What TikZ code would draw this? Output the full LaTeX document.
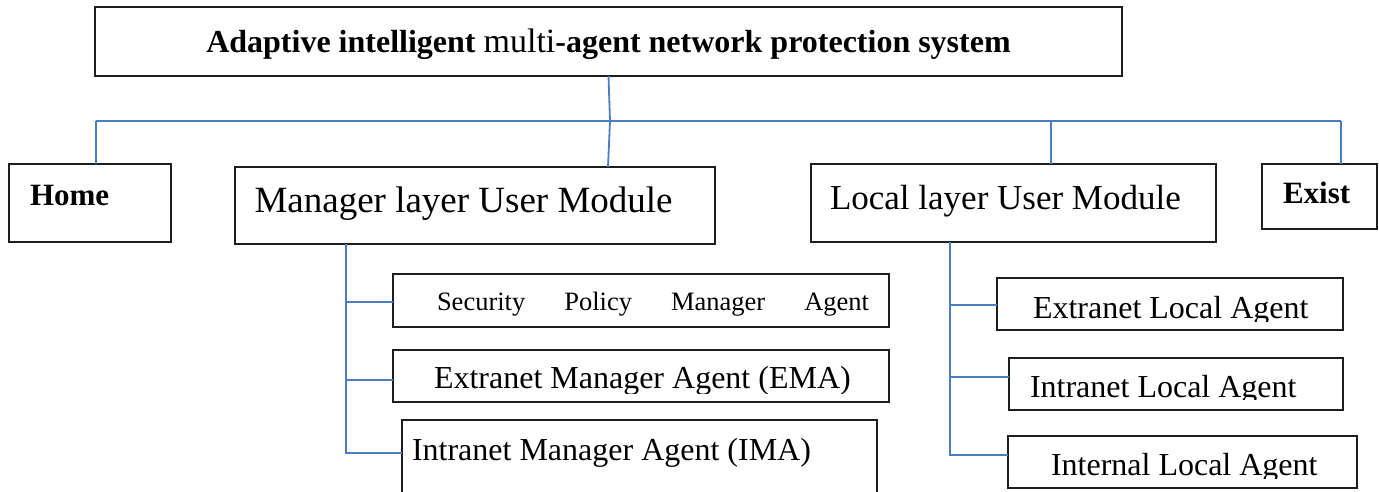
\documentclass[tikz,border=0pt]{standalone}
\usepackage{fontspec}
\setmainfont{Liberation Serif}
\definecolor{linkblue}{RGB}{74,126,193}
\definecolor{framegray}{RGB}{30,30,30}
\newcommand\boxat[5]{\node[frame, minimum width={#4-#2}, minimum height={#5-#3}] (#1) at (#2,#3) {};}
\newcommand\sz[1]{\fontsize{#1}{#1}\selectfont}
\begin{document}
\begin{tikzpicture}[x=1pt,y=-1pt,
  frame/.style={draw=framegray, line width=1.3pt, rectangle, inner sep=0pt, outer sep=0pt, anchor=north west},
  link/.style={draw=linkblue, line width=1.8pt},
  txt/.style={anchor=base west, inner sep=0pt, outer sep=0pt, text=black},
]
\useasboundingbox[fill=white] (0,0) rectangle (1379,491);

% boxes
\boxat{title}{95}{7}{1122}{76}
\boxat{home}{9}{164}{171}{242}
\boxat{mgr}{235}{167}{715}{244}
\boxat{loc}{811}{164}{1216}{242}
\boxat{exist}{1262}{164}{1377}{229}
\boxat{spa}{393}{274}{889}{327}
\boxat{ema}{393}{350}{889}{402}
\boxat{ima}{402}{420}{877}{510}
\boxat{ela}{997}{278}{1343}{330}
\boxat{ila}{1009}{358}{1343}{410}
\boxat{ina}{1008}{436}{1357}{488}

% labels
\node[anchor=base, inner sep=0pt] (titletext) at (608.5,52)
  {\sz{32}\bfseries Adaptive intelligent {\mdseries\sz{34}multi}-agent network protection system};
\node[txt] (hometext) at (30,205) {\sz{31}\bfseries Home};
\node[txt] (mgrtext) at (254.5,212) {\sz{37}Manager layer User Module};
\node[txt] (loctext) at (830,209) {\sz{35}Local layer User Module};
\node[txt] (existtext) at (1283,203) {\sz{31}\bfseries Exist};
\node[txt] (spatext) at (437,310) {\sz{26.5}\hbox to 432pt{Security\hfil Policy\hfil Manager\hfil Agent}};
\begin{scope}
  \clip (0,0) rectangle (1379,393);
  \node[txt] (ematext) at (434,388) {\sz{32}Extranet Manager Agent (EMA)};
\end{scope}
\node[txt] (imatext) at (412,460) {\sz{32}Intranet Manager Agent (IMA)};
\begin{scope}
  \clip (0,0) rectangle (1379,321);
  \node[txt] (elatext) at (1033,318) {\sz{32}Extranet Local Agent};
\end{scope}
\begin{scope}
  \clip (0,0) rectangle (1379,399);
  \node[txt] (ilatext) at (1030,397) {\sz{32}Intranet Local Agent};
\end{scope}
\begin{scope}
  \clip (0,0) rectangle (1379,478);
  \node[txt] (inatext) at (1051,475) {\sz{32}Internal Local Agent};
\end{scope}

% top-level bus
\coordinate (busL) at (96,121);
\coordinate (busM) at (610,121);
\coordinate (busC) at (1051,121);
\coordinate (busR) at (1341,121);
\draw[link] (busL) -- (busR);
\draw[link] (title.south) -- (busM) -- ([xshift=-2pt]busM |- mgr.north);
\draw[link] (busL) -- (busL |- home.north);
\draw[link] (busC) -- (busC |- loc.north);
\draw[link] (busR) -- (busR |- exist.north);

% manager layer branches
\coordinate (mstem) at (346,244);
\draw[link] (mstem) |- ([yshift=-1.5pt]spa.west);
\draw[link] (mstem) |- ([yshift=-4pt]ema.west);
\draw[link] (mstem) |- ([yshift=12pt]ima.west);

% local layer branches
\coordinate (lstem) at (950,242);
\draw[link] (lstem) |- ([yshift=-1pt]ela.west);
\draw[link] (lstem) |- ([yshift=7pt]ila.west);
\draw[link] (lstem) |- ([yshift=7pt]ina.west);
\end{tikzpicture}
\end{document}
